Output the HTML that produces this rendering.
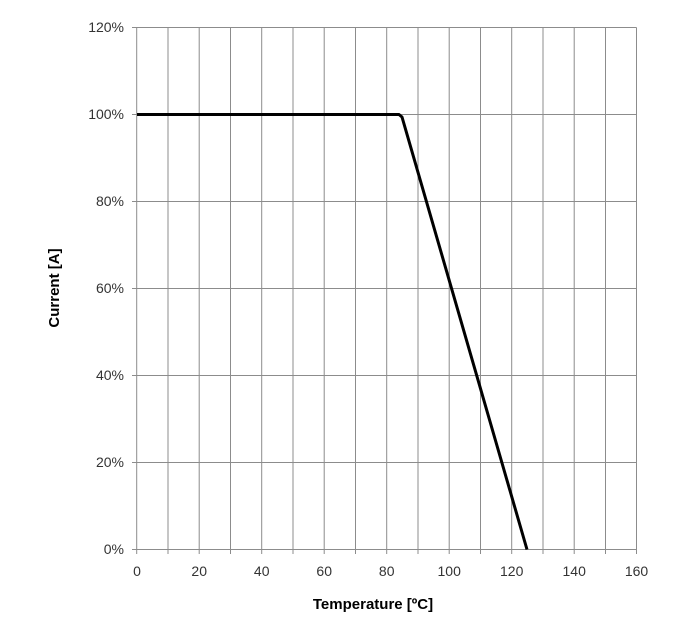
<!DOCTYPE html>
<html><head><style>body{margin:0;background:#fff}</style></head><body>
<svg width="684" height="635" xmlns="http://www.w3.org/2000/svg" font-family="Liberation Sans, Arial, sans-serif">
<rect width="684" height="635" fill="#fff"/>
<g stroke="#8c8c8c" stroke-width="1">
<line x1="168" y1="27.5" x2="168" y2="554"/><line x1="199.2" y1="27.5" x2="199.2" y2="554"/>
<line x1="230.5" y1="27.5" x2="230.5" y2="554"/><line x1="261.7" y1="27.5" x2="261.7" y2="554"/>
<line x1="293" y1="27.5" x2="293" y2="554"/><line x1="324.2" y1="27.5" x2="324.2" y2="554"/>
<line x1="355.5" y1="27.5" x2="355.5" y2="554"/><line x1="386.7" y1="27.5" x2="386.7" y2="554"/>
<line x1="418" y1="27.5" x2="418" y2="554"/><line x1="449.2" y1="27.5" x2="449.2" y2="554"/>
<line x1="480.5" y1="27.5" x2="480.5" y2="554"/><line x1="511.7" y1="27.5" x2="511.7" y2="554"/>
<line x1="543" y1="27.5" x2="543" y2="554"/><line x1="574.2" y1="27.5" x2="574.2" y2="554"/>
<line x1="605.5" y1="27.5" x2="605.5" y2="554"/><line x1="636.5" y1="27.5" x2="636.5" y2="554"/>
<line x1="132" y1="27.5" x2="636.5" y2="27.5"/><line x1="132" y1="114.5" x2="636.5" y2="114.5"/>
<line x1="132" y1="201.5" x2="636.5" y2="201.5"/><line x1="132" y1="288.5" x2="636.5" y2="288.5"/>
<line x1="132" y1="375.5" x2="636.5" y2="375.5"/><line x1="132" y1="462.5" x2="636.5" y2="462.5"/>
<line x1="132" y1="549.5" x2="636.5" y2="549.5"/>
<line x1="136.7" y1="27.5" x2="136.7" y2="554"/>
</g>
<polyline points="137,114.5 399,114.5 402,117 527,549.5" fill="none" stroke="#000" stroke-width="3" stroke-linejoin="round"/>
<g font-size="14" fill="#333" text-anchor="end">
<text x="124" y="32">120%</text><text x="124" y="119">100%</text><text x="124" y="206">80%</text>
<text x="124" y="293">60%</text><text x="124" y="380">40%</text><text x="124" y="467">20%</text><text x="124" y="554">0%</text>
</g>
<g font-size="14" fill="#333" text-anchor="middle">
<text x="137" y="576">0</text><text x="199.2" y="576">20</text><text x="261.7" y="576">40</text>
<text x="324.2" y="576">60</text><text x="386.7" y="576">80</text><text x="449.2" y="576">100</text>
<text x="511.7" y="576">120</text><text x="574.2" y="576">140</text><text x="636.5" y="576">160</text>
</g>
<text x="373" y="609" font-size="15" font-weight="bold" text-anchor="middle">Temperature [ºC]</text>
<text transform="translate(59,288) rotate(-90)" font-size="15" font-weight="bold" text-anchor="middle">Current [A]</text>
</svg>
</body></html>
